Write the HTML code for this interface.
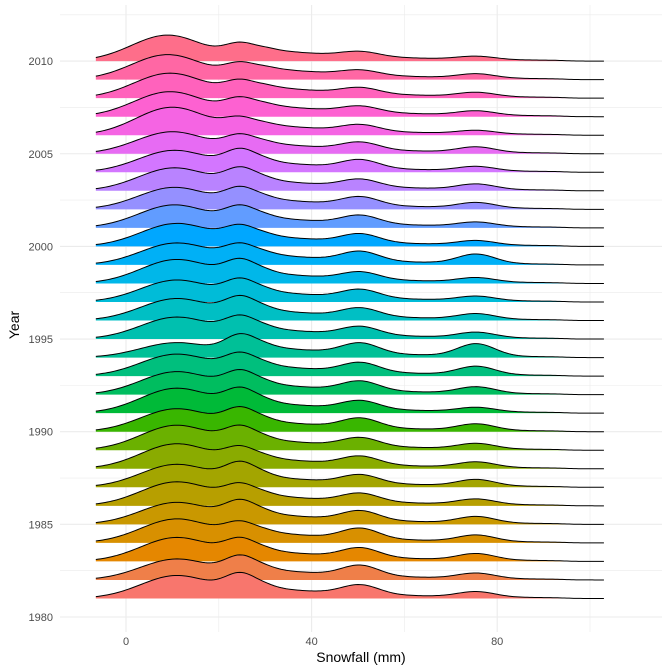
<!DOCTYPE html>
<html><head><meta charset="utf-8">
<style>
html,body{margin:0;padding:0;background:#fff;}
svg{display:block;font-family:"Liberation Sans",sans-serif;}
</style></head>
<body>
<svg id="chart" width="672" height="672" viewBox="0 0 672 672">
  <g id="grid"></g>
  <g id="ridges"></g>
  <g id="axes"></g>
  <text x="361" y="662" text-anchor="middle" font-size="14" fill="#000">Snowfall (mm)</text>
  <text transform="translate(19,325) rotate(-90)" text-anchor="middle" font-size="14" fill="#000">Year</text>
</svg>
<script>
const years = [1981,1982,1983,1984,1985,1986,1987,1988,1989,1990,1991,1992,1993,1994,1995,1996,1997,1998,1999,2000,2001,2002,2003,2004,2005,2006,2007,2008,2009,2010];
const mu1   = [11,11,11,11,11,11,11,11,11,11,11,11,11,11,11,11,11,11,11,11,10.5,10.5,10.5,10.5,10,10,9.5,9.5,9,9];
const peak1 = [23,21,24,24,22,24,23,25,25,23,25,23,22,15,22,22,22,24,22,23,23,22,23,22,22,28,25,25,25,26];
const peak2 = [26,25,24,22,25,23,26,23,25,25,26,25,24,24,24,25,24,25,22,22,23,23,24,24,20,19,20,19,18,19];
const peak3 = [14,15,14,15,14,13,13,13,13,14,13,14,14,15,13,13,13,12,14,13,13,13,12,13,12,11,11,11,10,10];
const peak4 = [7,7,8,8,8,7,8,7,7,8,6,8,10,14,7,7,6,6,11,6,6,7,7,6,7,5,6,6,6,5];
const tail  = [11,11,11,11,11,11,11,11,11,11,11,11,11,11,11,11,11,11,11,11,11,11,11,11,11,11,12,12,12,12];
const xTicks = [0,40,80];
const xMinor = [20,60,100];
const yTicks = [1980,1985,1990,1995,2000,2005,2010];

const NS = "http://www.w3.org/2000/svg";
function X(v){ return 126 + v*4.64; }
function Y(yr){ return 617 - (yr-1980)*18.53; }
const panel = {l:60, r:662, t:5, b:632};

function sig(z){ return 1/(1+Math.exp(-z)); }
function g(x,m,s){ return Math.exp(-(x-m)*(x-m)/(2*s*s)); }
function tailF(T,x){ return T*sig((x-29)/1.5)*Math.exp(-(x-30)/24)*sig((95-x)/1.2); }

function hcl(h,c,l){
  const hr=h*Math.PI/180, U=c*Math.cos(hr), V=c*Math.sin(hr);
  const Yv = l>8 ? 100*Math.pow((l+16)/116,3) : 100*l/903.3;
  const un=0.1978398, vn=0.4683363;
  const u=U/(13*l)+un, v=V/(13*l)+vn;
  const Xv=9*Yv*u/(4*v), Zv=-Xv/3-5*Yv+3*Yv/v;
  const x=Xv/100,y=Yv/100,z=Zv/100;
  let r=3.240479*x-1.537150*y-0.498535*z;
  let gg=-0.969256*x+1.875992*y+0.041556*z;
  let b=0.055648*x-0.204043*y+1.057311*z;
  const gam=t=>{t=t<=0.0031308?12.92*t:1.055*Math.pow(t,1/2.4)-0.055;return Math.round(Math.max(0,Math.min(1,t))*255);};
  return "rgb("+gam(r)+","+gam(gg)+","+gam(b)+")";
}

const grid=document.getElementById('grid');
function line(x1,y1,x2,y2,col,w,parent){
  const l=document.createElementNS(NS,'line');
  l.setAttribute('x1',x1);l.setAttribute('y1',y1);l.setAttribute('x2',x2);l.setAttribute('y2',y2);
  l.setAttribute('stroke',col);l.setAttribute('stroke-width',w);
  parent.appendChild(l);return l;
}
xMinor.forEach(v=>{
  const l=line(X(v),panel.t,X(v),panel.b,'#EBEBEB',0.6,grid);
  
  
});
xTicks.forEach(v=>{
  const l=line(X(v),panel.t,X(v),panel.b,'#EBEBEB',1.1,grid);
  
  
});
for(let yr=1977.5; yr<=2012.5; yr+=2.5){
  const y=Y(yr); if(y<panel.t||y>panel.b) continue;
  const major = Math.abs(yr%5)<0.01;
  const l=line(panel.l,y,panel.r,y,'#EBEBEB',major?1.1:0.6,grid);
  
  
}

const axes=document.getElementById('axes');
xTicks.forEach(v=>{
  const t=document.createElementNS(NS,'text');
  t.setAttribute('x',X(v));t.setAttribute('y',645);t.setAttribute('text-anchor','middle');
  t.setAttribute('font-size','11');t.setAttribute('fill','#4D4D4D');
  t.textContent=v;
  
  
  axes.appendChild(t);
});
yTicks.forEach(v=>{
  const t=document.createElementNS(NS,'text');
  t.setAttribute('x',53);t.setAttribute('y',Y(v)+4);t.setAttribute('text-anchor','end');
  t.setAttribute('font-size','11');t.setAttribute('fill','#4D4D4D');
  t.textContent=v;
  
  
  axes.appendChild(t);
});

const ridges=document.getElementById('ridges');
const n=years.length;
for(let i=n-1;i>=0;i--){
  const T=tail[i], m1=mu1[i], s1=7.8;
  const A1=peak1[i];
  const A2=peak2[i]-A1*g(25,m1,s1)-tailF(T,25);
  const A3=peak3[i]-tailF(T,50)-A2*g(50,25,3.6);
  const A4=peak4[i]-tailF(T,75);
  const f=x=>A1*g(x,m1,s1)+A2*g(x,25,3.6)+A3*g(x,50.5,4)+A4*g(x,75.5,4)+tailF(T,x);
  const base=Y(years[i]);
  const xmin=-6.5, xmax=103;
  let pts=[];
  for(let x=xmin;x<=xmax+0.001;x+=0.5){ pts.push([X(x), base - f(x)]); }
  const d="M"+pts.map(p=>p[0].toFixed(2)+","+p[1].toFixed(2)).join("L");
  const col=hcl(15+i*360/n,100,65);
  const fill=document.createElementNS(NS,'path');
  fill.setAttribute('d',d+"L"+X(xmax).toFixed(2)+","+base+"L"+X(xmin).toFixed(2)+","+base+"Z");
  fill.setAttribute('fill',col);
  
  
  ridges.appendChild(fill);
  const ln=document.createElementNS(NS,'path');
  ln.setAttribute('d',d);
  ln.setAttribute('fill','none');ln.setAttribute('stroke','#000');ln.setAttribute('stroke-width','1');
  
  
  ridges.appendChild(ln);
}
</script>
</body></html>
